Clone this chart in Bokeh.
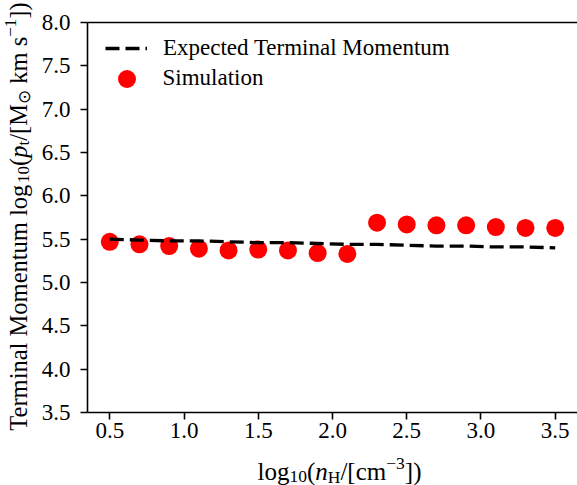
import math
from bokeh.plotting import figure
from bokeh.models import Range1d, LinearAxis, Label, Legend, LegendItem, FixedTicker
from bokeh.embed import file_html
from bokeh.resources import INLINE

# ---------------- data ----------------
log_nH = [0.5, 0.7, 0.9, 1.1, 1.3, 1.5, 1.7, 1.9, 2.1, 2.3, 2.5, 2.7, 2.9, 3.1, 3.3, 3.5]
sim_log_pt = [5.47, 5.44, 5.42, 5.39, 5.37, 5.38, 5.37, 5.34, 5.33,
              5.69, 5.67, 5.66, 5.66, 5.64, 5.63, 5.63]
expected_log_pt = [5.50, 5.49, 5.48, 5.48, 5.47, 5.46, 5.46, 5.45, 5.44,
                   5.44, 5.43, 5.42, 5.42, 5.41, 5.41, 5.40]
x_ticks = [0.5, 1.0, 1.5, 2.0, 2.5, 3.0, 3.5]
x_tick_labels = ["0.5", "1.0", "1.5", "2.0", "2.5", "3.0", "3.5"]
y_ticks = [3.5, 4.0, 4.5, 5.0, 5.5, 6.0, 6.5, 7.0, 7.5, 8.0]
y_tick_labels = ["3.5", "4.0", "4.5", "5.0", "5.5", "6.0", "6.5", "7.0", "7.5", "8.0"]
legend_labels = ["Expected Terminal Momentum", "Simulation"]

# ---------------- layout ----------------
W, H = 577, 485
L, R, T, B = 87, 577, 22, 412          # axes box in canvas pixels
X0, X1, Y0, Y1 = 0.35, 3.65, 3.5, 8.0  # axes limits
FONT = "Liberation Serif"
TICK_FS = "23px"

kx = (X1 - X0) / (R - L)
ky = (Y1 - Y0) / (B - T)


def dx(sx):
    return X0 + (sx - L) * kx


def dy(sy):
    return Y0 + (B - sy) * ky


# the frame covers the whole canvas; axes are pinned at the axes-box edges
p = figure(width=W, height=H,
           x_range=Range1d(dx(0), dx(W)), y_range=Range1d(dy(H), dy(0)),
           output_backend="svg", toolbar_location=None,
           x_axis_location=None, y_axis_location=None,
           min_border_left=0, min_border_right=0, min_border_top=0, min_border_bottom=0)
p.outline_line_color = None
p.xgrid.visible = False
p.ygrid.visible = False
p.background_fill_color = "white"
p.border_fill_color = "white"


def style_axis(ax, ticks, labels):
    ax.ticker = FixedTicker(ticks=ticks)
    ax.major_label_overrides = {t: s for t, s in zip(ticks, labels)}
    ax.axis_line_width = 1.6
    ax.axis_line_color = "black"
    ax.major_tick_line_width = 1.6
    ax.major_tick_line_color = "black"
    ax.major_tick_out = 7
    ax.major_tick_in = 0
    ax.minor_tick_line_color = None
    ax.major_label_text_font = FONT
    ax.major_label_text_font_size = TICK_FS
    ax.major_label_text_color = "black"


xaxis = LinearAxis(fixed_location=Y0, bounds=(X0, X1))
style_axis(xaxis, x_ticks, x_tick_labels)
xaxis.major_label_standoff = 3
p.add_layout(xaxis, "below")

yaxis = LinearAxis(fixed_location=X0, bounds=(Y0, Y1))
style_axis(yaxis, y_ticks, y_tick_labels)
yaxis.major_label_standoff = 10
p.add_layout(yaxis, "left")

top_axis = LinearAxis(fixed_location=Y1, bounds=(X0, X1), ticker=FixedTicker(ticks=[]),
                      axis_line_width=1.6, axis_line_color="black",
                      major_tick_line_color=None, minor_tick_line_color=None,
                      major_label_text_font_size="0px")
p.add_layout(top_axis, "above")

# ---------------- glyphs ----------------
sc = p.scatter(log_nH, sim_log_pt, size=18, fill_color="#ff0000", line_color=None)
ln = p.line(log_nH, expected_log_pt, line_color="black", line_width=3.3, line_dash="14 6")

# ---------------- legends ----------------
common = dict(padding=0, margin=0, border_line_color=None, background_fill_alpha=0,
              label_text_font=FONT, label_text_font_size=TICK_FS,
              label_text_color="black")
leg1 = Legend(items=[LegendItem(label=legend_labels[0], renderers=[ln])],
              location=(105, H - 33 - 30), glyph_width=42, glyph_height=30,
              label_height=30, label_standoff=16, **common)
leg2 = Legend(items=[LegendItem(label=legend_labels[1], renderers=[sc])],
              location=(103.5, H - 55.5 - 45), glyph_width=45, glyph_height=45,
              label_height=30, label_standoff=14, **common)
p.add_layout(leg1)
p.add_layout(leg2)

# ---------------- composite axis titles ----------------
ADV = {' ': .25, '\u00a0': .25, '(': .333, ')': .333, '[': .333, ']': .333, '/': .278,
       '0': .5, '1': .5, '3': .5, '\u2212': .564, 'T': .611, 'M': .889, 'H': .722,
       'a': .444, 'c': .444, 'e': .444, 'g': .5, 'i': .278, 'k': .5, 'l': .278,
       'm': .778, 'n': .5, 'o': .5, 'p': .5, 'r': .333, 's': .389, 't': .278,
       'u': .5, '\u2299': .838}


def width(text, size):
    return sum(ADV.get(c, .5) for c in text) * size


def place(pieces, center, base, rotated):
    total = sum(width(t, s) for t, s, *_ in pieces)
    pos = 0.0
    for text, size, style, shift, font in pieces:
        if rotated:
            sx, sy = base + shift, center + total / 2 - pos
        else:
            sx, sy = center - total / 2 + pos, base + shift
        p.add_layout(Label(x=dx(sx), y=dy(sy), text=text,
                           angle=math.pi / 2 if rotated else 0,
                           text_font=font, text_font_size=f"{size}px",
                           text_font_style=style, text_align="left",
                           text_baseline="alphabetic", text_color="black"))
        pos += width(text, size)


BIG, SMALL = 24.5, 17
SUB, SUP = 5, -8
ylabel_pieces = [
    ("Terminal Momentum log", BIG, "normal", 0, FONT),
    ("10", SMALL, "normal", SUB, FONT),
    ("(", BIG, "normal", 0, FONT),
    ("p", BIG, "italic", 0, FONT),
    ("t", SMALL, "normal", SUB, FONT),
    ("/[M", BIG, "normal", 0, FONT),
    ("\u2299", SMALL, "normal", SUB, "DejaVu Sans"),
    ("\u00a0km s", BIG, "normal", 0, FONT),
    ("\u22121", SMALL, "normal", SUP, FONT),
    ("])", BIG, "normal", 0, FONT),
]
xlabel_pieces = [
    ("log", 25, "normal", 0, FONT),
    ("10", 17.5, "normal", SUB, FONT),
    ("(", 25, "normal", 0, FONT),
    ("n", 25, "italic", 0, FONT),
    ("H", 17.5, "normal", SUB, FONT),
    ("/[cm", 25, "normal", 0, FONT),
    ("\u22123", 17.5, "normal", SUP, FONT),
    ("])", 25, "normal", 0, FONT),
]
place(ylabel_pieces, 216, 18, True)
place(xlabel_pieces, 339, 471, False)

open("out.html", "w").write(file_html(p, INLINE))
